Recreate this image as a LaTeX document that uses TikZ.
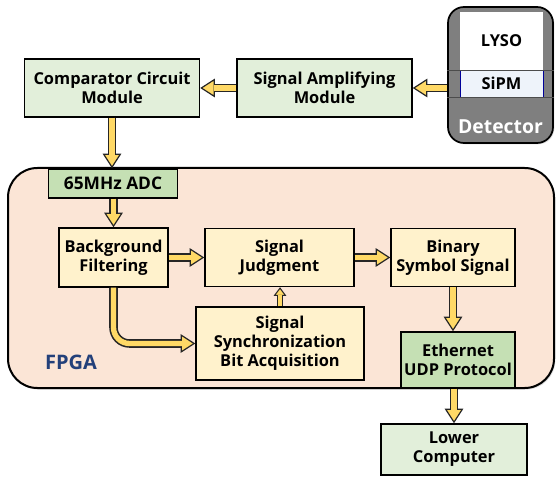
\documentclass[tikz,border=0pt]{standalone}
\usepackage{fontspec}
\setmainfont{Open Sans}
\usetikzlibrary{arrows.meta,shadows}
\definecolor{modgreen}{HTML}{E2EFDA}
\definecolor{adcgreen}{HTML}{C5E0B4}
\definecolor{boxyellow}{HTML}{FFF2CC}
\definecolor{fpgapink}{HTML}{FBE5D6}
\definecolor{arrowyellow}{HTML}{FFD966}
\definecolor{detgray}{HTML}{7F7F7F}
\definecolor{sipmblue}{HTML}{EEF3FA}
\definecolor{fpgablue}{HTML}{23407A}

\begin{document}
\begin{tikzpicture}[x=0.75pt,y=-0.75pt,
	box/.style={draw=black, line width=1.1pt, align=center, inner sep=0pt,
		font=\fontsize{12.3}{14.2}\selectfont\bfseries},
	module/.style={box, fill=modgreen},
	stage/.style={box, fill=boxyellow},
	fatarrow/.style={line width=6.4pt, draw=black!85,
		-{Triangle[length=11pt, width=14pt, fill=arrowyellow, color=black!85, line width=0.9pt]},
		postaction={draw=arrowyellow, line width=4pt, -, shorten >=10pt}},
	thinarrow/.style={line width=4.4pt, draw=black!85,
		-{Triangle[length=6.5pt, width=9.5pt, fill=arrowyellow, color=black!85, line width=0.8pt]},
		postaction={draw=arrowyellow, line width=2.4pt, -, shorten >=5.6pt}}]
\useasboundingbox (0,0) rectangle (556,477);

% detector
\node[draw=black, line width=1.3pt, fill=detgray, rounded corners=12pt,
	minimum width=78.75pt, minimum height=102pt, inner sep=0pt,
	drop shadow={opacity=0.25, shadow xshift=1pt, shadow yshift=-1pt}] (det) at (500.5,75) {};
\node[fill=white, minimum width=62.25pt, minimum height=43.5pt, inner sep=0pt,
	font=\fontsize{12.3}{14}\selectfont\bfseries] (lyso) at (501.5,41) {LYSO};
\node[draw=blue!60!black, line width=0.4pt, fill=sipmblue, minimum width=62.25pt, minimum height=20.25pt,
	inner sep=0pt, font=\fontsize{12.3}{14}\selectfont\bfseries] (sipm) at (501.5,83.5) {SiPM};
\draw[black!70, line width=0.8pt] (det.west |- lyso.south) -- (det.east |- lyso.south);
\draw[black!70, line width=0.8pt] (det.west |- sipm.south) -- (det.east |- sipm.south);
\node[text=white, font=\fontsize{14.5}{16}\selectfont\bfseries] (dettext) at (500.5,127) {Detector};

% front end
\node[module, minimum width=131.25pt, minimum height=43.5pt] (amp) at (324.5,88) {Signal Amplifying\\Module};
\node[module, minimum width=131.25pt, minimum height=43.5pt] (comp) at (112,88) {Comparator Circuit\\Module};

% FPGA
\node[draw=black, line width=1.5pt, fill=fpgapink, rounded corners=22pt,
	minimum width=409.5pt, minimum height=165pt,
	drop shadow={opacity=0.25, shadow xshift=1pt, shadow yshift=-1.2pt}] (fpga) at (281,278) {};
\node[text=fpgablue, font=\fontsize{15}{17}\selectfont\bfseries] (fpgatext) at (71,362) {FPGA};
\node[box, fill=adcgreen, minimum width=96.75pt, minimum height=21.75pt,
	font=\fontsize{13}{14}\selectfont\bfseries] (adc) at (113,183.5) {65MHz ADC};
\node[stage, minimum width=81.75pt, minimum height=44.25pt] (bf) at (113.5,257.5) {Background\\Filtering};
\node[stage, minimum width=111.75pt, minimum height=43.5pt] (sj) at (279.5,257.5) {Signal\\Judgment};
\node[stage, minimum width=93pt, minimum height=43.5pt] (bs) at (453,257.5) {Binary\\Symbol Signal};
\node[stage, minimum width=126pt, minimum height=54.75pt] (sync) at (280,343.5) {Signal\\Synchronization\\Bit Acquisition};
\node[box, fill=adcgreen, minimum width=85.5pt, minimum height=42pt] (eth) at (458,360) {Ethernet\\UDP Protocol};
\node[module, minimum width=109.5pt, minimum height=38.25pt] (lower) at (454,449.5) {Lower\\Computer};

% arrows
\draw[fatarrow] (det.west |- amp.east) -- (amp.east);
\draw[fatarrow] (amp.west) -- (comp.east);
\draw[fatarrow] (comp.south) -- (comp.south |- adc.north);
\draw[fatarrow] (bf.north |- adc.south) -- (bf.north);
\draw[fatarrow] (bf.east) -- (sj.west);
\draw[fatarrow] (sj.east) -- (bs.west);
\draw[fatarrow, rounded corners=12pt] (bf.south) |- (sync.west);
\draw[thinarrow] (sync.north) -- (sync.north |- sj.south);
\draw[fatarrow] (bs.south) -- (bs.south |- eth.north);
\draw[fatarrow] (lower.north |- eth.south) -- (lower.north);
\end{tikzpicture}
\end{document}
